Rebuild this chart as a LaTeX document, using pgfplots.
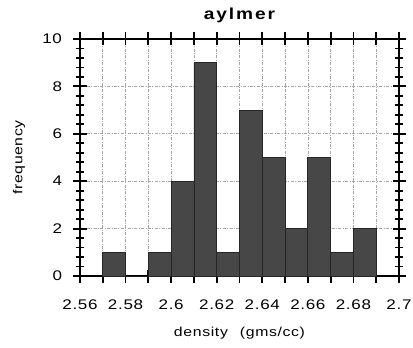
\documentclass[border=0pt]{standalone}
\usepackage{pgfplots}
\pgfplotsset{compat=1.18}
\usepackage{fontspec}
\setmainfont{Liberation Sans}
\newfontfamily\wf[FakeStretch=1.22,LetterSpace=5]{Liberation Sans}
\newfontfamily\tf[FakeStretch=1.2,LetterSpace=12]{Liberation Sans}
\begin{document}
\begin{tikzpicture}
\useasboundingbox (-80bp,-72bp) rectangle (333bp,276bp);
\begin{axis}[
  scale only axis, width=319bp, height=237bp,
  xmin=2.56, xmax=2.70, ymin=0, ymax=10,
  xtick={2.56,2.57,2.58,2.59,2.60,2.61,2.62,2.63,2.64,2.65,2.66,2.67,2.68,2.69,2.70},
  xticklabels={2.56,,2.58,,2.6,,2.62,,2.64,,2.66,,2.68,,2.7},
  ytick={0,2,4,6,8,10},
  minor y tick num=4,
  tick pos=both,
  tick align=center,
  major tick length=13bp,
  minor tick length=8bp,
  every tick/.style={black, line width=1.8bp},
  axis line style={line width=2.2bp},
  xmajorgrids, ymajorgrids,
  grid style={dash pattern=on 3bp off 1.5bp on 0.8bp off 1.5bp, gray!70, line width=0.6bp},
  /pgf/number format/assume math mode=true,
  tick label style={font=\wf\fontsize{14}{16}\selectfont},
  xticklabel style={yshift=-14bp},
  yticklabel style={xshift=-8bp},
  xlabel={density\hspace{12bp}(gms/cc)},
  ylabel={frequency},
  title={aylmer},
  every axis x label/.style={at={(axis description cs:0.5,0)}, anchor=center, yshift=-57bp, font=\wf\fontsize{13}{15}\selectfont},
  every axis y label/.style={at={(axis description cs:0,0.5)}, anchor=center, rotate=90, yshift=61bp, font=\wf\fontsize{13}{15}\selectfont},
  every axis title/.style={at={(axis description cs:0.5,1)}, anchor=center, yshift=24bp, font=\tf\bfseries\fontsize{16}{18}\selectfont},
]
\addplot[ybar interval, fill=black!72, draw=black!85, line width=0.8bp]
  coordinates {(2.57,1) (2.58,0) (2.59,1) (2.60,4) (2.61,9) (2.62,1) (2.63,7) (2.64,5) (2.65,2) (2.66,5) (2.67,1) (2.68,2) (2.69,2)};
\end{axis}
\end{tikzpicture}
\end{document}
